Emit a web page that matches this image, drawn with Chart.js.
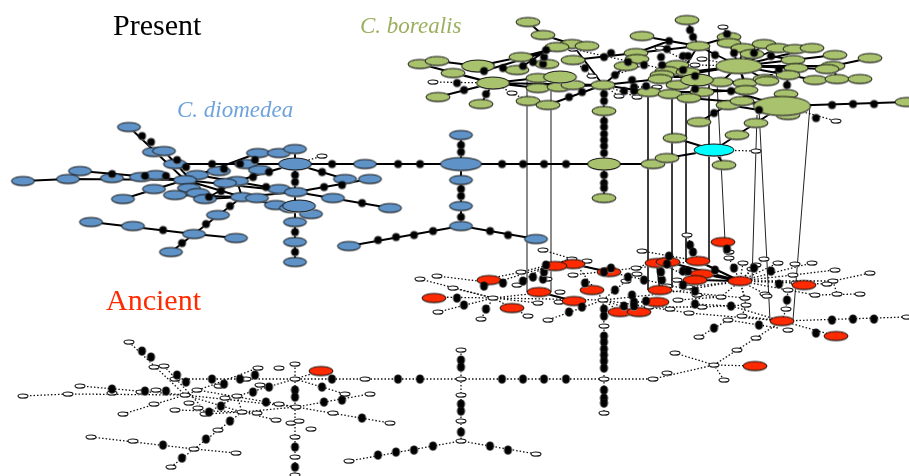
<!doctype html>
<html lang="en">
<head>
  <meta charset="utf-8">
  <title>haplotype networks</title>
  <style>
    body { margin: 0; background: #fff; }
    #chart { display: block; }
  </style>
</head>
<body>
  <canvas id="chart" width="909" height="476"></canvas>
  <script src="https://cdn.jsdelivr.net/npm/chart.js@4"></script>
  <script>
  // text labels
  const labelTexts = ['Present', 'C. borealis', 'C. diomedea', 'Ancient'];
  const labelX = [113, 360, 177, 106];
  const labelY = [27, 27, 111, 302];

  // present layer, C. borealis
  const greenSmall = [[528,22],[543,35],[642,36],[687,20],[572,44],[587,46],[557,47],[698,46],[729,37],[729,43],[764,44],[778,48],[743,48],[795,49],[812,48],[752,54],[835,55],[870,58],[793,60],[796,68],[833,66],[827,69],[636,53],[637,59],[521,57],[573,60],[420,64],[437,61],[453,73],[517,70],[547,64],[626,66],[677,65],[667,71],[662,75],[688,72],[660,79],[721,82],[745,83],[765,79],[788,75],[815,80],[837,79],[860,79],[767,81],[538,78],[538,88],[559,87],[573,85],[603,85],[678,85],[702,92],[746,90],[649,92],[670,94],[689,98],[438,97],[481,104],[528,101],[548,105],[604,111],[728,105],[742,101],[786,94],[788,115],[756,123],[699,122],[737,135],[675,138],[653,164],[667,158],[724,165],[604,198],[907,102]];
  const greenMid = [[478,66],[493,83],[560,77],[697,80],[604,164]];
  const greenBig = [[739,66]];
  const greenHuge = [[782,106]];
  const cyanNodes = [[714,150]];
  const greenEdges = [[420,64,493,83],[437,61,478,66],[453,73,493,83],[438,97,493,83],[481,104,493,83],[478,66,521,57],[521,57,572,44],[484,71,572,44],[528,22,543,35],[543,35,572,44],[493,83,538,78],[493,83,538,88],[493,83,603,85],[538,88,603,85],[517,70,547,50],[573,60,636,53],[572,44,603,85],[603,85,548,105],[603,85,626,66],[603,85,604,111],[603,85,660,79],[603,85,649,92],[604,111,604,198],[604,164,653,164],[653,164,667,158],[667,158,714,150],[675,138,714,150],[724,165,714,150],[714,150,737,135],[737,135,756,123],[756,123,782,106],[782,106,907,102],[782,106,786,94],[699,122,728,105],[728,105,778,113],[689,98,782,106],[739,66,698,46],[739,66,729,43],[739,66,743,48],[739,66,752,54],[739,66,764,44],[739,66,778,48],[739,66,812,48],[739,66,793,60],[739,66,796,68],[739,66,833,66],[833,66,870,58],[833,66,837,79],[815,80,860,79],[788,75,815,80],[739,66,788,75],[739,66,765,79],[739,66,745,83],[739,66,721,82],[739,66,688,72],[739,66,660,79],[698,46,642,36],[698,46,669,41],[698,46,687,20],[698,46,729,37],[698,46,636,53],[636,53,669,41],[793,60,835,55],[796,68,827,69],[721,82,697,80],[721,82,678,85],[721,82,745,83],[746,90,702,92],[739,66,746,90],[662,75,745,83],[786,94,788,75],[695,89,731,91],[731,91,782,106],[702,92,649,92],[649,92,689,98],[742,101,782,106],[746,90,742,101],[667,71,688,72],[698,46,683,70],[734,53,729,43],[754,53,743,48],[771,56,793,60],[779,69,765,79]];
  const greenDotted = [[433,82,493,83],[493,83,528,101],[573,49,695,76],[592,76,573,60],[603,85,637,97],[603,85,619,96],[634,87,657,87],[660,48,695,65],[695,65,739,66],[702,59,739,66],[723,27,729,37],[782,106,836,121],[714,150,756,151],[615,75,644,65]];
  const greenWhite = [[433,82],[512,93],[592,76],[489,64],[573,49],[619,96],[637,97],[657,87],[660,48],[695,65],[702,59],[723,27],[836,121],[756,151]];
  const greenDots = [[457,83],[464,90],[486,94],[484,71],[503,68],[523,66],[533,62],[543,64],[544,57],[546,50],[585,68],[569,97],[582,92],[604,94],[604,101],[615,75],[604,57],[611,53],[628,62],[644,65],[662,65],[661,57],[669,41],[667,49],[683,56],[688,56],[683,70],[695,76],[715,55],[727,34],[690,30],[693,37],[734,53],[754,53],[771,56],[779,69],[787,85],[695,89],[731,91],[759,110],[714,113],[632,80],[634,87],[634,91],[646,86],[624,91],[816,118],[832,105],[853,104],[874,104],[604,121],[604,127],[604,134],[604,140],[604,146],[604,153],[604,175],[604,183],[604,188],[566,164]];

  // present layer, C. diomedea
  const blueSmall = [[129,127],[154,152],[164,151],[258,153],[279,153],[295,149],[365,164],[461,135],[461,180],[461,206],[461,226],[536,239],[349,246],[175,164],[246,164],[219,171],[260,170],[80,171],[68,179],[23,181],[112,178],[141,177],[156,175],[197,175],[185,180],[237,181],[225,183],[345,179],[370,179],[279,189],[296,192],[154,189],[189,188],[123,199],[175,195],[198,193],[205,199],[242,197],[257,198],[333,198],[276,205],[291,208],[311,214],[390,208],[218,215],[295,222],[295,242],[295,262],[91,222],[133,226],[194,234],[236,238],[171,252]];
  const blueMid = [[295,164],[299,206]];
  const blueBig = [[461,164]];
  const blueEdges = [[178,164,604,164],[461,135,461,226],[461,226,349,246],[461,226,536,239],[295,149,295,262],[295,164,345,179],[296,192,370,179],[296,192,390,208],[129,127,185,180],[164,151,200,190],[23,181,68,179],[68,179,185,180],[80,171,185,180],[185,180,123,199],[185,180,258,153],[197,175,296,192],[185,180,296,192],[237,181,295,164],[209,197,237,181],[175,195,242,197],[242,197,296,192],[237,181,242,197],[242,197,194,234],[194,234,171,252],[194,234,236,238],[194,234,91,222],[242,197,276,205],[185,180,242,197],[205,199,242,197],[257,198,242,197],[189,188,185,180]];
  const blueDotted = [[295,164,322,156]];
  const blueWhite = [[322,156]];
  const blueDots = [[177,160],[186,167],[142,136],[151,142],[212,164],[332,164],[398,164],[420,164],[502,164],[523,164],[544,164],[240,164],[255,160],[224,169],[269,172],[253,177],[322,172],[295,175],[295,182],[266,187],[324,187],[342,185],[362,203],[221,191],[209,197],[230,206],[206,224],[163,230],[182,243],[295,232],[295,252],[112,174],[145,176],[166,176],[461,145],[461,152],[461,189],[461,196],[461,217],[433,231],[414,235],[396,237],[378,240],[490,231],[508,235]];

  // lines between the two time layers
  const connectorsGrey = [[527,78,527,292],[551,78,551,292]];
  const connectors = [[648,92,648,290],[672,94,672,288],[686,98,686,262],[709,46,709,262],[717,82,725,241],[757,115,752,281],[759,110,770,320],[810,105,793,320]];

  // ancient layer
  const redNodes = [[723,242],[573,264],[555,266],[609,272],[489,280],[434,298],[512,308],[539,292],[574,301],[592,290],[657,263],[668,262],[698,261],[702,274],[695,280],[740,281],[660,290],[657,302],[620,312],[639,312],[804,285],[782,321],[836,336],[755,366],[321,371]];
  const redEdges = [[555,264,573,264],[573,264,609,272],[539,292,574,301],[668,262,740,281],[698,261,740,281],[702,274,740,281],[695,280,740,281],[657,265,660,290]];
  const ancientWhite = [[543,250],[642,251],[687,235],[572,259],[587,261],[729,252],[729,258],[764,259],[778,263],[743,263],[795,264],[812,263],[752,269],[835,270],[870,273],[793,275],[796,283],[833,281],[827,284],[636,268],[637,274],[521,272],[573,275],[420,279],[437,276],[453,288],[517,285],[547,279],[626,281],[677,280],[667,286],[688,287],[697,295],[721,297],[745,298],[765,294],[788,290],[815,295],[837,294],[860,294],[767,296],[493,298],[560,292],[538,303],[559,302],[603,300],[678,300],[702,307],[746,305],[649,307],[670,309],[689,313],[438,312],[481,319],[528,316],[548,320],[604,326],[728,320],[742,316],[786,309],[788,330],[756,338],[699,337],[737,350],[675,353],[714,365],[604,379],[653,379],[667,373],[724,380],[604,413],[907,317],[756,265],
    [129,342],[154,367],[164,366],[258,368],[279,368],[295,364],[295,379],[365,379],[461,350],[461,379],[461,395],[461,421],[461,441],[536,454],[349,461],[175,379],[246,379],[219,386],[260,385],[80,386],[68,394],[23,396],[112,393],[141,392],[156,390],[197,390],[185,395],[237,396],[225,398],[345,394],[370,394],[279,404],[296,407],[154,404],[189,403],[123,414],[175,410],[198,408],[205,414],[242,412],[257,413],[333,413],[276,420],[291,423],[299,421],[311,429],[390,423],[218,430],[295,437],[295,457],[295,475],[91,437],[133,441],[194,449],[236,453],[171,467]];
  const ancientDots = [[457,298],[464,305],[486,309],[484,286],[503,283],[523,281],[533,277],[543,279],[544,272],[546,265],[585,283],[569,312],[582,307],[604,309],[604,316],[615,290],[604,272],[611,268],[628,277],[644,280],[662,280],[661,272],[669,256],[667,264],[683,271],[688,271],[683,285],[695,291],[715,270],[727,249],[690,245],[693,252],[734,268],[754,268],[771,271],[779,284],[787,300],[695,304],[731,306],[759,325],[714,328],[632,295],[634,302],[634,306],[646,301],[624,306],[816,333],[832,320],[853,319],[874,319],[604,336],[604,342],[604,349],[604,355],[604,361],[604,368],[604,390],[604,398],[604,403],[566,379],
    [177,375],[186,382],[142,351],[151,357],[212,379],[332,379],[398,379],[420,379],[502,379],[523,379],[544,379],[240,379],[255,375],[224,384],[269,387],[253,392],[322,387],[295,390],[295,397],[266,402],[324,402],[342,400],[362,418],[221,406],[209,412],[230,421],[206,439],[163,445],[182,458],[295,447],[295,467],[112,389],[145,391],[166,391],[461,360],[461,367],[461,404],[461,411],[461,432],[433,446],[414,450],[396,452],[378,455],[490,446],[508,450]];
  const ancientDotted = [[178,379,604,379],[604,379,653,379],[653,379,714,365],[675,353,714,365],[724,380,714,365],[714,365,755,366],[714,365,737,350],[737,350,756,338],[756,338,782,321],[782,321,907,317],[782,321,786,309],[699,337,728,320],[728,320,778,328],[689,313,782,321],[782,321,836,336],[604,326,604,413],[603,300,604,326],[461,350,461,441],[461,441,349,461],[461,441,536,454],[295,364,295,476],[295,379,345,394],[296,407,370,394],[296,407,390,423],[129,342,185,395],[164,366,200,405],[23,396,68,394],[68,394,185,395],[80,386,185,395],[185,395,123,414],[185,395,258,368],[197,390,296,407],[185,395,296,407],[237,396,295,379],[209,412,237,396],[175,410,242,412],[242,412,296,407],[237,396,242,412],[242,412,194,449],[194,449,171,467],[194,449,236,453],[194,449,91,437],[242,412,276,420],[185,395,242,412],[205,414,242,412],[257,413,242,412],[295,379,321,371],
    [420,279,493,298],[437,276,478,281],[453,288,493,298],[438,312,493,298],[481,319,493,298],[478,281,521,272],[521,272,572,259],[484,286,572,259],[543,250,572,259],[493,298,538,293],[493,298,538,303],[493,298,603,300],[433,297,493,298],[493,298,528,316],[517,285,547,265],[573,275,636,268],[572,259,603,300],[603,300,548,320],[603,300,626,281],[603,300,660,294],[603,300,649,307],[603,300,637,312],[603,300,619,311],[634,302,657,302],[573,264,695,291],[660,263,695,280],[695,280,740,281],[702,274,740,281],[723,242,729,252],
    [740,281,698,261],[740,281,729,258],[740,281,743,263],[740,281,752,269],[740,281,764,259],[740,281,778,263],[740,281,812,263],[740,281,793,275],[740,281,796,283],[740,281,833,281],[833,281,870,273],[833,281,837,294],[815,295,860,294],[788,290,815,295],[740,281,788,290],[740,281,765,294],[740,281,745,298],[740,281,721,297],[740,281,688,287],[740,281,660,294],[698,261,642,251],[698,261,669,256],[698,261,687,235],[698,261,636,268],[636,268,669,256],[793,275,835,270],[796,283,827,284],[721,297,697,295],[721,297,678,300],[746,305,702,307],[740,281,746,305],[662,290,745,298],[786,309,788,290],[695,304,731,306],[731,306,782,321],[702,307,649,307],[649,307,689,313],[742,316,782,321],[746,305,742,316]];

  function toPoints(list) {
    return list.map(p => ({x: p[0], y: p[1]}));
  }

  // line segments with gaps between them
  function toSegments(list) {
    let points = [];
    list.forEach(s => {
      points.push({x: s[0], y: s[1]}, {x: s[2], y: s[3]}, {x: null, y: null});
    });
    return points;
  }

  // flattened node glyph with a grey underside, like the original network plot
  function makeNode(w, h, fill, thin) {
    let c = document.createElement('canvas');
    c.width = w + 4;
    c.height = h + 4;
    let ctx = c.getContext('2d');
    let cx = (w + 4) / 2, cy = (h + 4) / 2;
    ctx.fillStyle = '#b5b5b5';
    ctx.beginPath();
    ctx.ellipse(cx, cy + 1, w / 2, h / 2, 0, 0, Math.PI * 2);
    ctx.fill();
    ctx.fillStyle = fill;
    ctx.strokeStyle = '#111';
    ctx.lineWidth = thin ? 1.1 : 1;
    ctx.beginPath();
    ctx.ellipse(cx, cy, w / 2, h / 2, 0, 0, Math.PI * 2);
    ctx.fill();
    ctx.stroke();
    return c;
  }

  function nodeSet(list, glyph, order) {
    return {type: 'scatter', data: toPoints(list), pointStyle: glyph, pointRadius: 6, showLine: false, order: order};
  }

  function lineSet(list, color, width, dash, order) {
    return {
      type: 'scatter', data: toSegments(list), showLine: true, spanGaps: false, pointRadius: 0,
      borderColor: color, borderWidth: width, borderDash: dash, order: order
    };
  }

  function dotSet(list, w, h, order) {
    return nodeSet(list, makeNode(w, h, '#000', true), order);
  }

  const green = '#a9c26d', blue = '#5f93c8', red = '#ff2a00';

  const labelPlugin = {
    id: 'labels',
    afterDatasetsDraw(chart) {
      let ctx = chart.ctx, sx = chart.scales.x, sy = chart.scales.y;
      let fonts = ['30px "Liberation Serif"', 'italic 23px "Liberation Serif"', 'italic 23px "Liberation Serif"', '30px "Liberation Serif"'];
      let colors = ['#000', '#9bb05f', '#6fa3dc', '#ff2a00'];
      ctx.save();
      ctx.textBaseline = 'middle';
      labelTexts.forEach((t, i) => {
        ctx.font = fonts[i];
        ctx.fillStyle = colors[i];
        ctx.fillText(t, sx.getPixelForValue(labelX[i]), sy.getPixelForValue(labelY[i]));
      });
      ctx.restore();
    }
  };

  new Chart(document.getElementById('chart'), {
    type: 'scatter',
    data: {
      datasets: [
        lineSet(connectorsGrey, '#666', 1.5, [], 21),
        lineSet(connectors, '#222', 1, [], 20),
        lineSet(ancientDotted, '#111', 1.3, [1.5, 2], 19),
        nodeSet(ancientWhite, makeNode(10, 4, '#fff', true), 18),
        lineSet(redEdges, '#000', 2, [], 17),
        nodeSet(redNodes, makeNode(24, 9, red), 16),
        dotSet(ancientDots, 7, 8, 15),
        lineSet(greenDotted, '#111', 1.3, [1.5, 2], 14),
        lineSet(blueDotted, '#111', 1.3, [1.5, 2], 14),
        lineSet(greenEdges, '#000', 1.9, [], 13),
        lineSet(blueEdges, '#000', 1.9, [], 13),
        nodeSet(greenWhite, makeNode(10, 4, '#fff', true), 12),
        nodeSet(blueWhite, makeNode(10, 4, '#fff', true), 12),
        nodeSet(greenSmall, makeNode(24, 9, green), 11),
        nodeSet(blueSmall, makeNode(23, 9, blue), 11),
        nodeSet(greenMid, makeNode(33, 12, green), 10),
        nodeSet(blueMid, makeNode(33, 12, blue), 10),
        nodeSet(greenBig, makeNode(46, 15, green), 9),
        nodeSet(blueBig, makeNode(41, 13, blue), 9),
        nodeSet(greenHuge, makeNode(57, 19, green), 8),
        nodeSet(cyanNodes, makeNode(40, 12, '#00ffff'), 8),
        dotSet(greenDots, 7, 7, 7),
        dotSet(blueDots, 7, 7, 7)
      ]
    },
    options: {
      responsive: false,
      animation: false,
      layout: {padding: 0, autoPadding: false},
      plugins: {legend: {display: false}, tooltip: {enabled: false}},
      scales: {
        x: {type: 'linear', display: false, min: 0, max: 909},
        y: {type: 'linear', display: false, min: 0, max: 476, reverse: true}
      }
    },
    plugins: [labelPlugin]
  });
  </script>
</body>
</html>
